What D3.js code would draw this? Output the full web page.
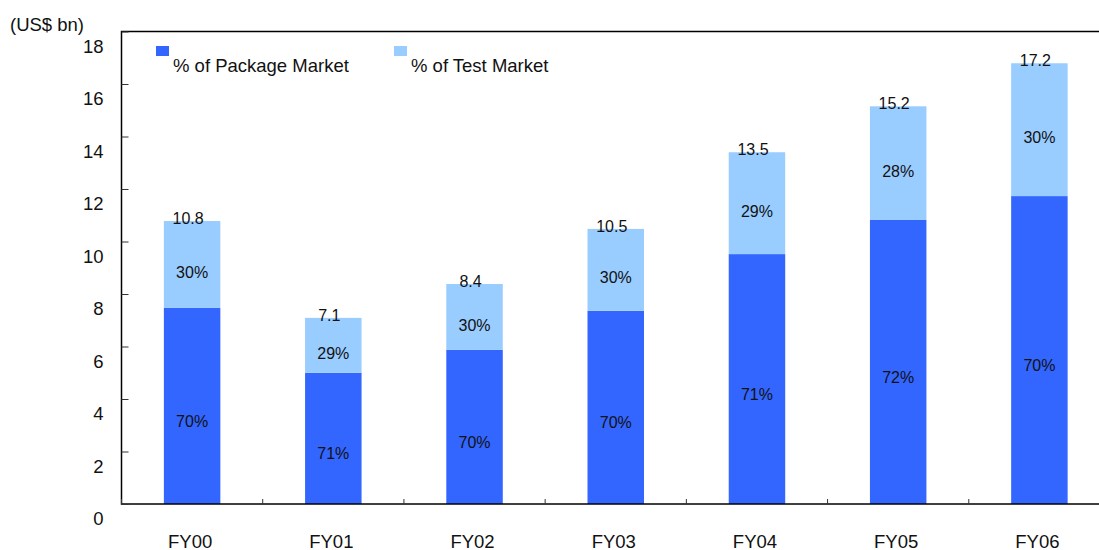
<!DOCTYPE html>
<html>
<head>
<meta charset="utf-8">
<script src="https://cdn.jsdelivr.net/npm/d3@7"></script>
<style>
  html, body { margin: 0; padding: 0; background: #fff; }
  svg { display: block; }
  text { font-family: "Liberation Sans", Arial, sans-serif; fill: #111; }
</style>
</head>
<body>
<svg id="chart" width="1099" height="550"></svg>
<script>
// ---- data ----
const categories = ["FY00", "FY01", "FY02", "FY03", "FY04", "FY05", "FY06"];
const packageValues = [7.47, 5.0, 5.87, 7.36, 9.52, 10.82, 11.73];
const testValues = [3.31, 2.09, 2.51, 3.12, 3.88, 4.33, 5.06];
const totalLabels = ["10.8", "7.1", "8.4", "10.5", "13.5", "15.2", "17.2"];
const packageShare = ["70%", "71%", "70%", "70%", "71%", "72%", "70%"];
const testShare = ["30%", "29%", "30%", "30%", "29%", "28%", "30%"];
const yTicks = [0, 2, 4, 6, 8, 10, 12, 14, 16, 18];
const seriesNames = ["% of Package Market", "% of Test Market"];
const unitLabel = "(US$ bn)";

// ---- layout ----
const colors = ["#3366FF", "#99CCFF"];
const mLeft = 121.5, mRight = 1110, mTop = 31.5, mBottom = 504;
const svg = d3.select("#chart");

const y = d3.scaleLinear().domain([0, 18]).range([mBottom, mTop]);
const x = d3.scaleBand().domain(categories).range([mLeft, mRight])
  .paddingInner(0.6).paddingOuter(0.3);

const rows = categories.map((c, i) => ({
  c, pkg: packageValues[i], test: testValues[i],
  total: totalLabels[i], pShare: packageShare[i], tShare: testShare[i]
}));

// bars
const g = svg.append("g");
g.selectAll("rect.pkg").data(rows).join("rect")
  .attr("class", "pkg")
  .attr("x", d => x(d.c)).attr("width", x.bandwidth())
  .attr("y", d => y(d.pkg)).attr("height", d => y(0) - y(d.pkg))
  .attr("fill", colors[0]);
g.selectAll("rect.test").data(rows).join("rect")
  .attr("class", "test")
  .attr("x", d => x(d.c)).attr("width", x.bandwidth())
  .attr("y", d => y(d.pkg + d.test)).attr("height", d => y(d.pkg) - y(d.pkg + d.test))
  .attr("fill", colors[1]);

// segment labels
g.selectAll("text.pshare").data(rows).join("text")
  .attr("class", "pshare")
  .attr("x", d => x(d.c) + x.bandwidth() / 2)
  .attr("y", d => (y(0) + y(d.pkg)) / 2 + 15)
  .attr("dy", "0.35em")
  .attr("text-anchor", "middle")
  .style("font-size", "16px")
  .text(d => d.pShare);
g.selectAll("text.tshare").data(rows).join("text")
  .attr("class", "tshare")
  .attr("x", d => x(d.c) + x.bandwidth() / 2)
  .attr("y", d => (y(d.pkg) + y(d.pkg + d.test)) / 2 + 8)
  .attr("dy", "0.35em")
  .attr("text-anchor", "middle")
  .style("font-size", "16px")
  .text(d => d.tShare);
g.selectAll("text.total").data(rows).join("text")
  .attr("class", "total")
  .attr("x", d => x(d.c) + x.bandwidth() / 2 - 4)
  .attr("y", d => y(d.pkg + d.test) + 3)
  .attr("text-anchor", "middle")
  .style("font-size", "16px")
  .text(d => d.total);

// frame
svg.append("rect")
  .attr("x", mLeft).attr("y", mTop)
  .attr("width", mRight - mLeft).attr("height", mBottom - mTop)
  .attr("fill", "none").attr("stroke", "#000").attr("stroke-width", 1.5);

// y axis
const yAxis = svg.append("g")
  .attr("transform", `translate(${mLeft},0)`)
  .call(d3.axisLeft(y).tickValues(yTicks).tickSize(-7).tickPadding(18).tickFormat(d3.format("d")));
yAxis.select(".domain").remove();
yAxis.selectAll(".tick line").attr("stroke", "#333");
yAxis.selectAll(".tick text")
  .attr("y", 15)
  .style("font-size", "18.5px")
  .style("font-family", "'Liberation Sans', Arial, sans-serif")
  .attr("fill", "#111");

// x axis (category labels)
const xAxis = svg.append("g")
  .attr("transform", `translate(-2,${mBottom})`)
  .call(d3.axisBottom(x).tickSize(0).tickPadding(31));
xAxis.select(".domain").remove();
xAxis.selectAll(".tick text")
  .style("font-size", "18.5px")
  .style("font-family", "'Liberation Sans', Arial, sans-serif")
  .attr("fill", "#111");

// x boundary ticks
const bounds = categories.map(c => x(c) + x.bandwidth() / 2 - x.step() / 2);
svg.append("g").selectAll("line").data(bounds).join("line")
  .attr("x1", d => d).attr("x2", d => d)
  .attr("y1", mBottom).attr("y2", mBottom - 5)
  .attr("stroke", "#333");

// unit label
svg.append("text")
  .attr("x", 10).attr("y", 31)
  .style("font-size", "18.5px")
  .text(unitLabel);

// legend
const legendX = [156, 394];
const leg = svg.append("g").selectAll("g").data(seriesNames).join("g")
  .attr("transform", (d, i) => `translate(${legendX[i]},0)`);
leg.append("rect")
  .attr("x", 0).attr("y", 46).attr("width", 13).attr("height", 10)
  .attr("fill", (d, i) => colors[i]);
leg.append("text")
  .attr("x", 17).attr("y", 72)
  .style("font-size", "18.5px")
  .text(d => d);
</script>
</body>
</html>
